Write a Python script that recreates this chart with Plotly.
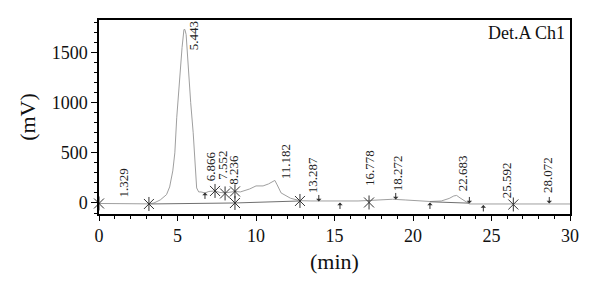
import plotly.graph_objects as go

# Chromatogram signal (time in min, signal in mV)
time_min = [0, 1, 2, 3, 3.18, 3.5, 3.9, 4.3, 4.5, 4.7, 4.83, 4.95, 5.12, 5.29, 5.41, 5.47,
            5.55, 5.62, 5.73, 5.84, 6.0, 6.11, 6.22, 6.35, 6.5, 6.75, 7.0, 7.39, 7.7, 8.03,
            8.4, 8.66, 9.0, 9.6, 10.0, 10.45, 10.8, 11.1, 11.2, 11.35, 11.6, 12.2, 12.8,
            13.5, 14.5, 15.35, 16.5, 17.2, 18.0, 18.7, 19.5, 20.5, 21.08, 21.8, 22.3,
            22.6, 22.78, 23.0, 23.4, 23.6, 24.5, 26.0, 28.0, 30.0]
signal_mv = [-5, -6, -7, -8, -9, 0, 30, 83, 160, 320, 500, 850, 1216, 1550, 1730, 1730,
             1680, 1500, 1200, 1000, 700, 380, 150, 110, 110, 100, 115, 120, 105, 100,
             110, 115, 110, 140, 170, 170, 190, 215, 225, 180, 100, 47, 23,
             20, 18, 15, 20, 25, 33, 37, 30, 20, 15, 20, 45,
             70, 75, 50, 5, -10, -10, -10, -10, -10]

# Integration baselines (segments)
base_t = [3.18, 8.66, None, 8.66, 12.8, None, 21.08, 23.59]
base_v = [-10, 0, None, 0, 20, None, 12, -2]

# Peak boundary marks
star_t = [0, 3.18, 7.39, 8.03, 8.66, 8.66, 12.8, 17.2, 26.39]
star_v = [-5, -10, 120, 95, 115, 0, 20, 5, -15]
up_t = [6.75, 15.35, 21.08, 24.48]
up_v = [105, 5, 5, -20]
down_t = [14.0, 18.9, 23.59, 28.68]
down_v = [15, 35, -5, -5]

# Peak retention time labels
peak_labels = ["1.329", "5.443", "6.866", "7.552", "8.236", "11.182", "13.287",
               "16.778", "18.272", "22.683", "25.592", "28.072"]
label_t = [1.53, 6.0, 7.07, 7.81, 8.55, 11.85, 13.65, 17.26, 19.06, 23.2, 26.0, 28.6]
label_v = [30, 1500, 197, 213, 163, 213, 80, 150, 100, 100, 30, 80]

x_ticks = [0, 5, 10, 15, 20, 25, 30]
y_ticks = [0, 500, 1000, 1500]

SERIF = "Liberation Serif"
MARK = "#333333"

fig = go.Figure()
fig.add_trace(go.Scatter(x=time_min, y=signal_mv, mode="lines",
                         line=dict(color="#9f9f9f", width=1), hoverinfo="skip"))
fig.add_trace(go.Scatter(x=base_t, y=base_v, mode="lines",
                         line=dict(color="#707070", width=1), hoverinfo="skip"))
for sym in ["x-thin-open", "line-ns-open"]:
    fig.add_trace(go.Scatter(x=star_t, y=star_v, mode="markers", cliponaxis=False,
                             marker=dict(symbol=sym, size=10, color=MARK,
                                         line=dict(color=MARK, width=1)),
                             hoverinfo="skip"))

# arrow marks: tip at the data point
for t, v in zip(up_t, up_v):
    fig.add_annotation(x=t, y=v, ax=0, ay=8, text="", showarrow=True,
                       arrowhead=1, arrowsize=0.9, arrowwidth=1, arrowcolor=MARK)
for t, v in zip(down_t, down_v):
    fig.add_annotation(x=t, y=v, ax=0, ay=-8, text="", showarrow=True,
                       arrowhead=1, arrowsize=0.9, arrowwidth=1, arrowcolor=MARK)

for lab, t, v in zip(peak_labels, label_t, label_v):
    fig.add_annotation(x=t, y=v, text=lab, textangle=-90, showarrow=False,
                       xanchor="center", yanchor="bottom",
                       font=dict(family=SERIF, size=13, color="#222222"))

fig.add_annotation(x=1, y=1, xref="paper", yref="paper", text="Det.A Ch1",
                   showarrow=False, xanchor="right", yanchor="top", xshift=-3, yshift=-1,
                   font=dict(family=SERIF, size=18, color="#111111"))

fig.update_layout(
    width=600, height=295, showlegend=False,
    margin=dict(l=99, r=30, t=20, b=81),
    paper_bgcolor="white", plot_bgcolor="white",
    font=dict(family=SERIF, size=18, color="#111111"),
)
fig.update_xaxes(range=[0, 30], tickvals=x_ticks, ticks="outside", ticklen=5, tickwidth=1.2,
                 tickcolor="black", showline=True, linecolor="black", linewidth=1.5,
                 mirror=True, showgrid=False, zeroline=False, automargin=False,
                 minor=dict(dtick=1, ticks="outside", ticklen=3, tickcolor="black"),
                 title=dict(text="(min)", standoff=8),
                 tickfont=dict(family=SERIF, size=18))
fig.update_yaxes(range=[-110, 1825], tickvals=y_ticks, ticks="outside", ticklen=6, tickwidth=1.2,
                 tickcolor="black", showline=True, linecolor="black", linewidth=1.5,
                 mirror=True, showgrid=False, zeroline=False, automargin=False,
                 minor=dict(dtick=100, ticks="outside", ticklen=3, tickcolor="black"),
                 title=dict(text="(mV)", standoff=10),
                 tickfont=dict(family=SERIF, size=18))

fig.write_html("out.html", config={"displayModeBar": False},
               post_script="document.body.style.margin='0';")
